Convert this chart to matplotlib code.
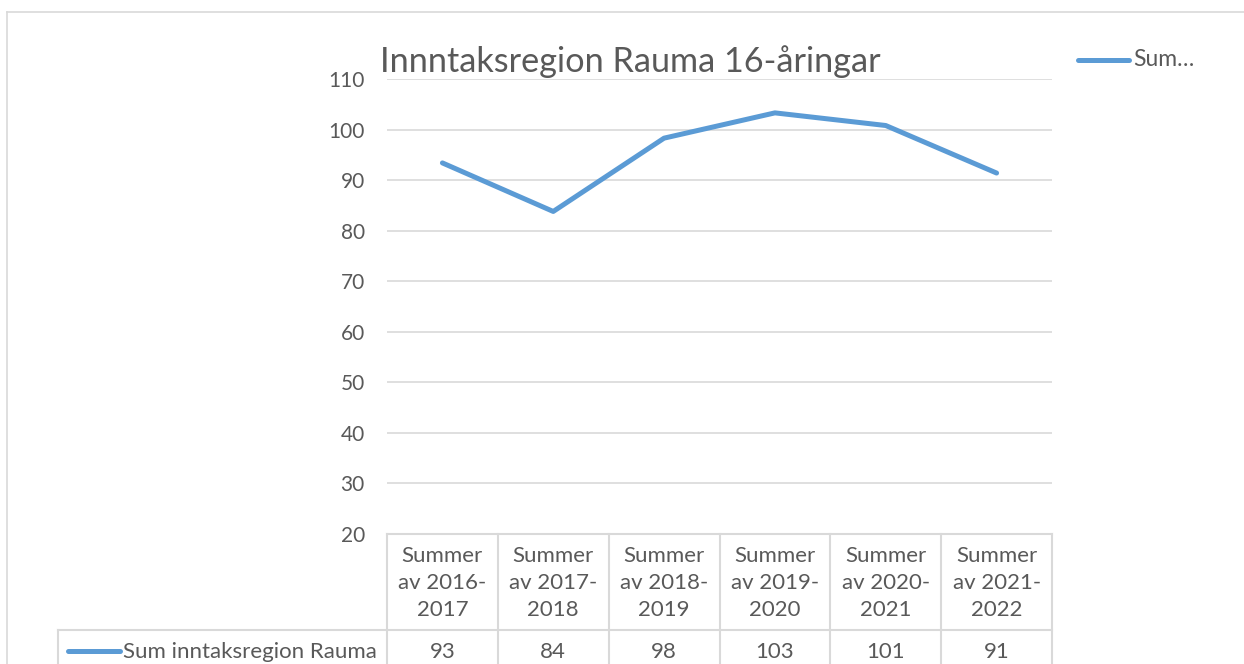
import matplotlib
matplotlib.use('Agg')
import matplotlib.pyplot as plt
import matplotlib.transforms as mtransforms
from matplotlib.lines import Line2D

plt.rcParams['font.family'] = ['Lato', 'DejaVu Sans']

title = 'Innntaksregion Rauma 16-åringar'
series_name = 'Sum inntaksregion Rauma'
categories = ['Summer\nav 2016-\n2017', 'Summer\nav 2017-\n2018', 'Summer\nav 2018-\n2019',
              'Summer\nav 2019-\n2020', 'Summer\nav 2020-\n2021', 'Summer\nav 2021-\n2022']
values = [93.4, 83.8, 98.3, 103.3, 100.8, 91.4]
table_labels = ['93', '84', '98', '103', '101', '91']
yticks = [20, 30, 40, 50, 60, 70, 80, 90, 100, 110]

W, H = 1244, 664
line_color = '#5B9BD5'
text_color = '#595959'
grid_color = '#D9D9D9'


def fx(px):
    return px / W


def fy(py):
    return 1 - py / H


fig = plt.figure(figsize=(W / 100, H / 100), dpi=100)

# outer chart frame
fig.add_artist(Line2D([fx(7), 1], [fy(12), fy(12)], color=grid_color, lw=1.2))
fig.add_artist(Line2D([fx(7), fx(7)], [fy(12), 0], color=grid_color, lw=1.2))

ax = fig.add_axes([fx(387), fy(534), fx(1052) - fx(387), fy(79) - fy(534)])
x = list(range(len(values)))
ax.plot(x, values, color=line_color, lw=3.6, solid_capstyle='round', solid_joinstyle='round', zorder=3)
ax.set_xlim(-0.5, len(values) - 0.5)
ax.set_ylim(20, 110)
ax.set_yticks(yticks)
ax.set_xticks([])
ax.yaxis.grid(True, color=grid_color, lw=1.2)
ax.set_axisbelow(True)
for s in ax.spines.values():
    s.set_visible(False)
ax.tick_params(axis='y', length=0, pad=16, labelsize=15, labelcolor=text_color)

fig.text(fx(380), fy(62), title, fontsize=24.7, color=text_color, va='center', ha='left')

# legend top right
fig.add_artist(Line2D([fx(1078), fx(1129)], [fy(60), fy(60)], color=line_color, lw=3.6,
                      solid_capstyle='round'))
fig.text(fx(1133), fy(60), 'Sum…', fontsize=16.5, color=text_color, va='center', ha='left')

# data table
trans = mtransforms.blended_transform_factory(ax.transData, fig.transFigure)
n = len(values)
for i in range(n + 1):
    fig.add_artist(Line2D([i - 0.5, i - 0.5], [fy(534), 0], transform=trans, color=grid_color, lw=1.5))
fig.add_artist(Line2D([-0.5, n - 0.5], [fy(534), fy(534)], transform=trans, color=grid_color, lw=1.5))
row_top = fy(630)
fig.add_artist(Line2D([fx(58), fx(1052)], [row_top, row_top], color=grid_color, lw=1.5))
fig.add_artist(Line2D([fx(58), fx(58)], [row_top, 0], color=grid_color, lw=1.5))

for i, (cat, lab) in enumerate(zip(categories, table_labels)):
    fig.text(i, fy(583), cat, transform=trans, ha='center', va='center', fontsize=16,
             color=text_color, linespacing=1.45, multialignment='center')
    fig.text(i, fy(652), lab, transform=trans, ha='center', va='center', fontsize=16,
             color=text_color)

fig.add_artist(Line2D([fx(68), fx(120)], [fy(651), fy(651)], color=line_color, lw=3.6,
                      solid_capstyle='round'))
fig.text(fx(123), fy(652), series_name, fontsize=16, color=text_color, va='center', ha='left')

fig.savefig('out.png', dpi=100)
